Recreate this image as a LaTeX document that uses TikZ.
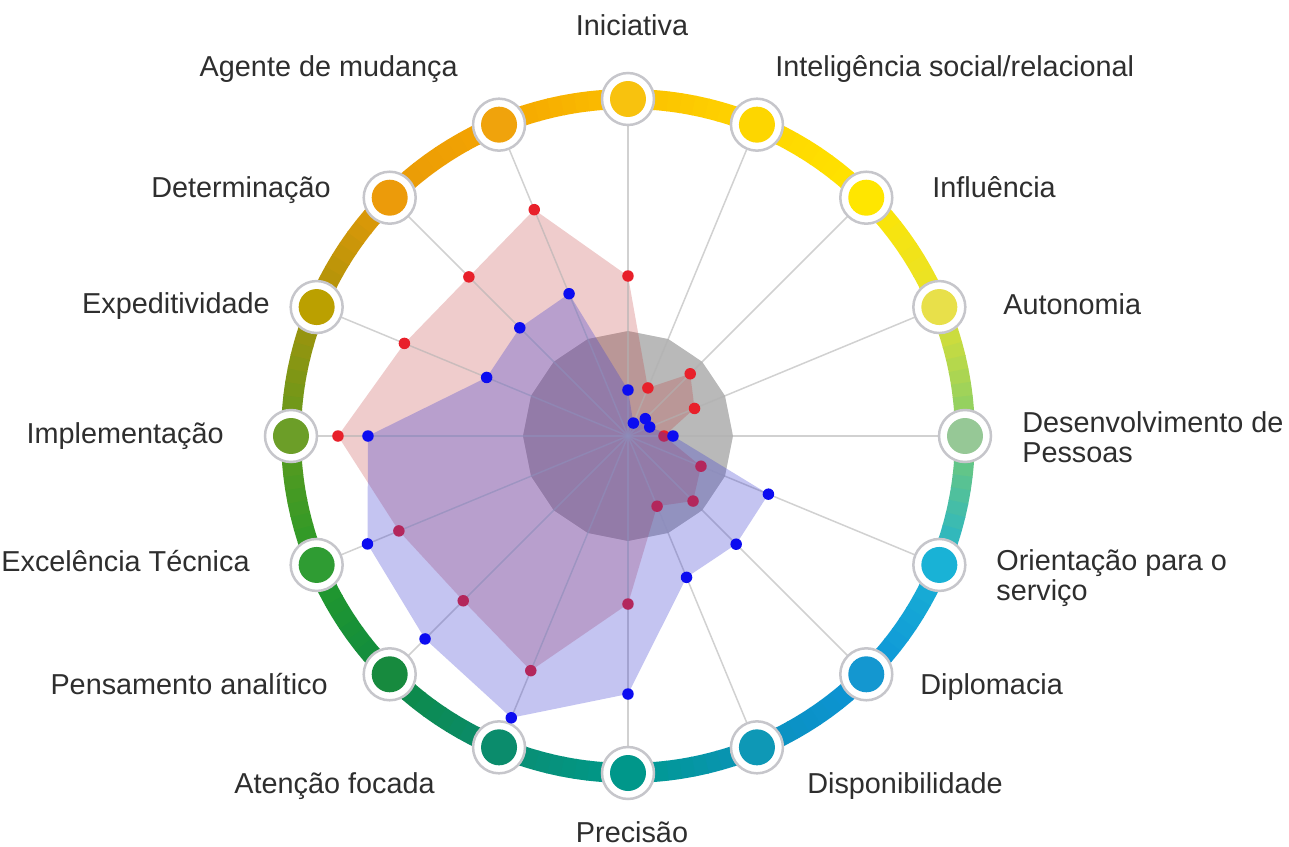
\documentclass[tikz,border=0pt]{standalone}
\usepackage{fontspec}
\setmainfont{Liberation Sans}
\usepackage{xcolor}
\usepackage{tikz}
\definecolor{labeltext}{HTML}{2E2E2E}
\definecolor{ringborder}{HTML}{C6C6CB}
\definecolor{redseries}{HTML}{E8202A}
\definecolor{blueseries}{HTML}{0C0CF0}
\definecolor{redarea}{HTML}{C03434}
\definecolor{bluearea}{HTML}{3A3AD0}
\definecolor{grayarea}{HTML}{7F7F7F}
% ring colours, one per axis (clockwise from the top)
\definecolor{rc0}{HTML}{FBC000}
\definecolor{rc1}{HTML}{FFD500}
\definecolor{rc2}{HTML}{FFE500}
\definecolor{rc3}{HTML}{E6E22E}
\definecolor{rc4}{HTML}{7ACB70}
\definecolor{rc5}{HTML}{1AB2D4}
\definecolor{rc6}{HTML}{0D93D8}
\definecolor{rc7}{HTML}{0A92BC}
\definecolor{rc8}{HTML}{009A8C}
\definecolor{rc9}{HTML}{0A8C70}
\definecolor{rc10}{HTML}{0E8A42}
\definecolor{rc11}{HTML}{259A2A}
\definecolor{rc12}{HTML}{5E9A1E}
\definecolor{rc13}{HTML}{A8920A}
\definecolor{rc14}{HTML}{E89A08}
\definecolor{rc15}{HTML}{F5A500}
\def\redvals{52,88,72,36,79,92,76,168,254,233,248,290,242,225,245}
\def\bluevals{14,24.5,23.5,45,152,153,153,258,305,287,282,260,153,153,154}

\begin{document}
\begin{tikzpicture}[x=0.02cm, y=0.02cm,
    skill/.style={circle, draw=ringborder, line width=0.05cm, fill=white, minimum size=1.04cm, inner sep=0pt},
    lbl/.style={font=\fontsize{16.4}{17.1}\selectfont, text=labeltext, inner sep=0pt},
    spoke/.style={draw=gray!60, line width=0.03cm, opacity=0.6},
    dot/.style={radius=0.115cm}
]
\useasboundingbox (-628,-410) rectangle (661,436);
\coordinate (c) at (0,0);

% colour ring
\foreach \i in {0,...,15}{
  \pgfmathtruncatemacro{\k}{mod(\i+1,16)}
  \foreach \j in {0,...,9}{
    \pgfmathsetmacro{\a}{90-22.5*\i-2.25*\j}
    \pgfmathtruncatemacro{\p}{10*\j+5}
    \draw[line width=0.4cm, draw=rc\k!\p!rc\i] (\a:337) arc[start angle=\a, delta angle=-2.4, radius=6.74cm];
  }
}

% skill circles
\foreach \n/\col [count=\i from 0] in {ini/F8C20E, intel/FDD600, infl/FFE600, auto/E8E04A, desenv/96C896, orient/19B2D6, diplo/1497D0, dispo/0E98B6, prec/00978A, aten/0B8C6C, pens/178A3E, excel/2F9C33, impl/6C9E28, exped/BBA000, deter/EC9B0A, agente/F0A30C}{
  \definecolor{nc}{HTML}{\col}
  \node[skill] (\n) at ({90-22.5*\i}:337) {};
  \fill[nc] (\n) circle[radius=0.36cm];
}

% areas
\fill[grayarea, fill opacity=0.55] (90:105) \foreach \k in {1,...,15}{ -- ({90-22.5*\k}:105)} -- cycle;
\fill[redarea, fill opacity=0.25] (90:160) \foreach \r [count=\k] in \redvals { -- ({90-22.5*\k}:\r)} -- cycle;

% spokes
\foreach \n in {ini,intel,infl,auto,desenv,orient,diplo,dispo,prec,aten,pens,excel,impl,exped,deter,agente}
  \draw[spoke] (c) -- (\n);

\fill[redseries] (90:160) circle[dot];
\foreach \r [count=\k] in \redvals \fill[redseries] ({90-22.5*\k}:\r) circle[dot];
\fill[bluearea, fill opacity=0.3] (90:46) \foreach \r [count=\k] in \bluevals { -- ({90-22.5*\k}:\r)} -- cycle;

\fill[blueseries] (90:46) circle[dot];
\foreach \r [count=\k] in \bluevals \fill[blueseries] ({90-22.5*\k}:\r) circle[dot];

% labels
\node[lbl, anchor=base] (lini) at (4,400) {Iniciativa};
\node[lbl, anchor=base west] (lintel) at (147,359) {Inteligência social/relacional};
\node[lbl, anchor=base west] (linfl) at (304,239) {Influência};
\node[lbl, anchor=base west] (lauto) at (375,122) {Autonomia};
\node[lbl, anchor=west, align=left] (ldesenv) at (394,-1) {Desenvolvimento de\\Pessoas};
\node[lbl, anchor=west, align=left] (lorient) at (368,-142) {Orientação para o\\serviço};
\node[lbl, anchor=base west] (ldiplo) at (292,-258) {Diplomacia};
\node[lbl, anchor=base west] (ldispo) at (179,-357) {Disponibilidade};
\node[lbl, anchor=base] (lprec) at (4,-406) {Precisão};
\node[lbl, anchor=base east] (laten) at (-193,-357) {Atenção focada};
\node[lbl, anchor=base east] (lpens) at (-300,-258) {Pensamento analítico};
\node[lbl, anchor=base east] (lexcel) at (-378,-135) {Excelência Técnica};
\node[lbl, anchor=base east] (limpl) at (-404,-7) {Implementação};
\node[lbl, anchor=base east] (lexped) at (-358,123) {Expeditividade};
\node[lbl, anchor=base east] (ldeter) at (-297,239) {Determinação};
\node[lbl, anchor=base east] (lagente) at (-170,359) {Agente de mudança};

\end{tikzpicture}
\end{document}
